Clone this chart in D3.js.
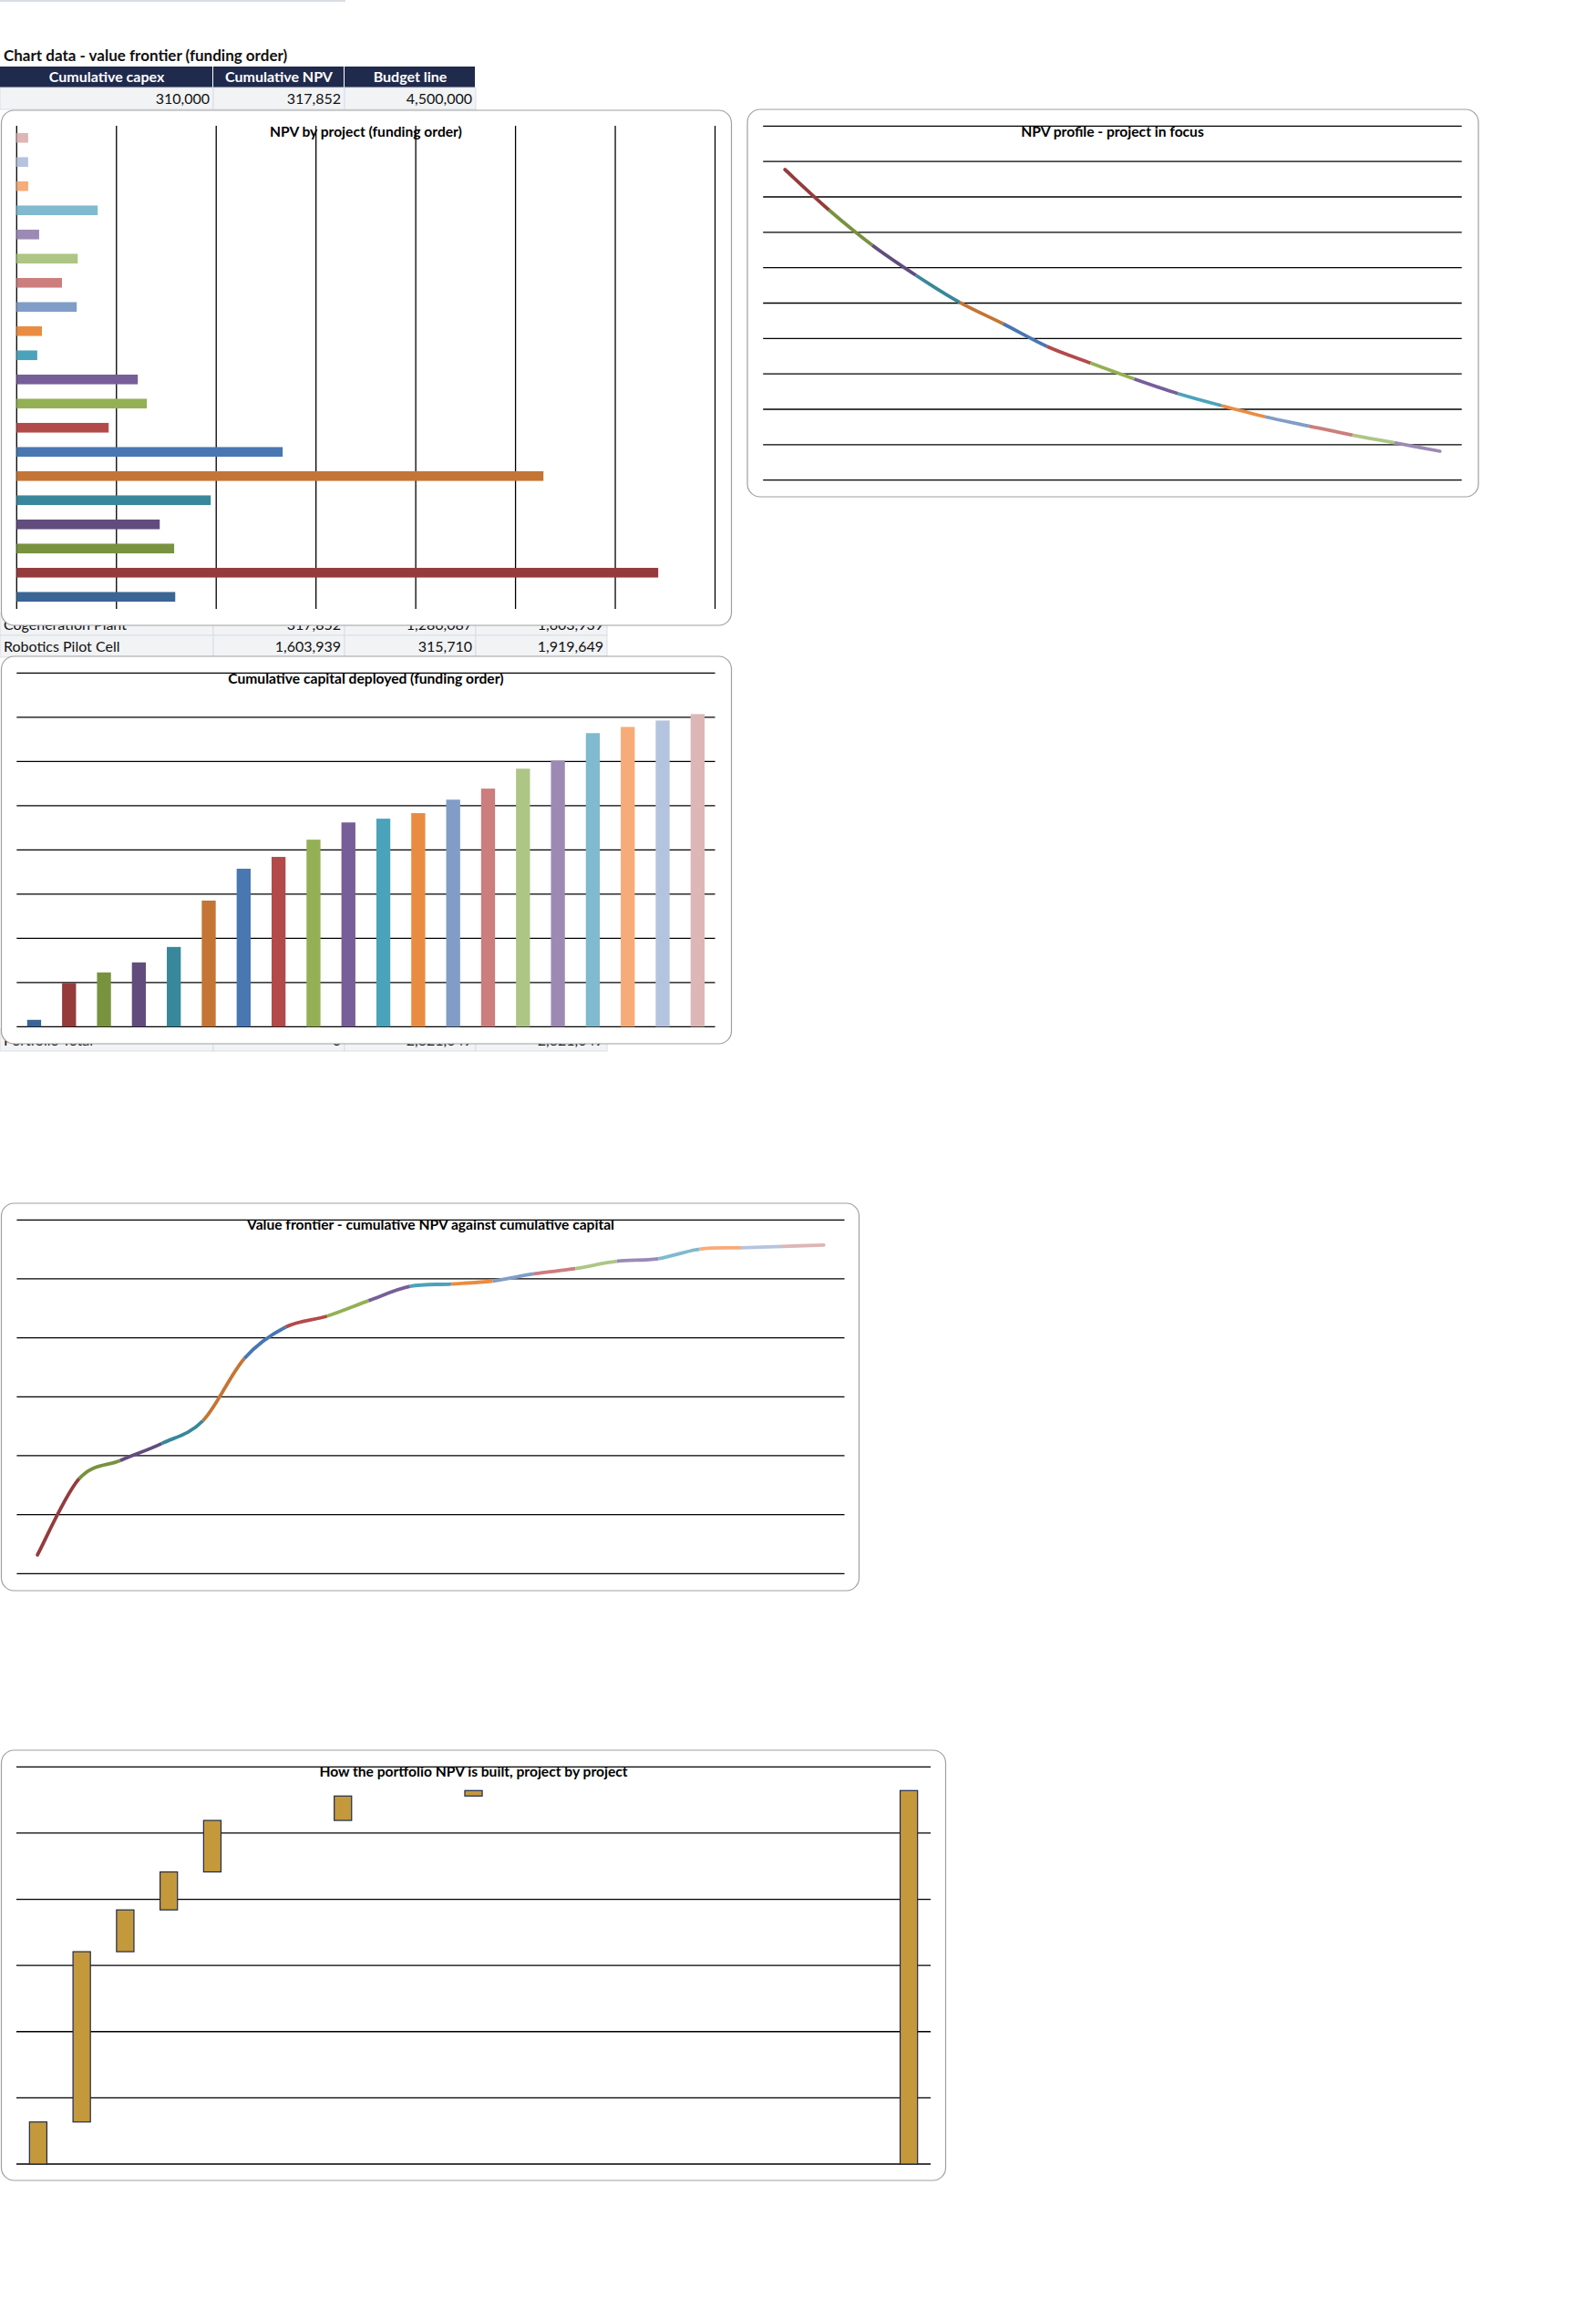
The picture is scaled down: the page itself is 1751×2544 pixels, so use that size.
<!DOCTYPE html>
<html>
<head>
<meta charset="utf-8">
<script src="https://cdn.jsdelivr.net/npm/d3@7"></script>
<style>
  body { margin: 0; background: #fff; }
  svg text { font-family: Lato, "Open Sans", sans-serif; }
</style>
</head>
<body>
<div id="sheet"></div>
<script>
// ---- data (funding order) ----
const projects = ["Project 01", "Cogeneration Plant", "Robotics Pilot Cell", "Project 04", "Project 05",
                  "Project 06", "Project 07", "Project 08", "Project 09", "Project 10",
                  "Project 11", "Project 12", "Project 13", "Project 14", "Project 15",
                  "Project 16", "Project 17", "Project 18", "Project 19", "Project 20"];
const npvByProject = [317852, 1286087, 315710, 286800, 389000, 1056000, 533200, 184400, 261000, 242800,
                      41200, 50600, 120400, 90800, 122400, 45000, 162400, 23000, 23000, 23000];
const cumulativeCapex = [310000, 1975000, 2455000, 2908000, 3607000, 5705000, 7145000, 7680000, 8460000, 9240000,
                         9410000, 9660000, 10270000, 10770000, 11670000, 12040000, 13280000, 13560000, 13850000, 14140000];
const cumulativeNpv = [317852, 1603939, 1919649, 2206449, 2595449, 3651449, 4184649, 4369049, 4630049, 4872849,
                       4914049, 4964649, 5085049, 5175849, 5298249, 5343249, 5505649, 5528649, 5551649, 5574649];
// waterfall: start / step per project, plus the portfolio total
const waterfallCats = projects.concat(["Portfolio Total"]);
const waterfallStart = [0, 317852, 1603939, 1919649, 2206449, 2595449, 2595449, 2595449, 2779849, 2779849,
                        2779849, 2821049, 2821049, 2821049, 2821049, 2821049, 2821049, 2821049, 2821049, 2821049, 0];
const waterfallStep = [317852, 1286087, 315710, 286800, 389000, 0, 0, 184400, 0, 0,
                       41200, 0, 0, 0, 0, 0, 0, 0, 0, 0, 2821049];
// NPV profile of the project in focus, by discount rate
const discountRates = ["0%", "1%", "2%", "3%", "4%", "5%", "6%", "7%", "8%", "9%", "10%", "11%", "12%", "13%", "14%", "15%"];
const profileNpv = [4386000, 3820000, 3318000, 2893000, 2511000, 2207000, 1889000, 1653000,
                    1429000, 1223000, 1052000, 894000, 765000, 636000, 524000, 408000];
const summaryHeaders = ["Cumulative capex", "Cumulative NPV", "Budget line"];
const summaryValues = [310000, 317852, 4500000];

const projectColors = ["#3b6594", "#953b3c", "#78923f", "#624c7d", "#39879a", "#c47535", "#4877b2", "#b34a4a",
                       "#94b055", "#775e98", "#4aa3bb", "#e98c42", "#819dc7", "#cc7d7d", "#adc685", "#9c8ab5",
                       "#7fbace", "#f7ab79", "#b5c4de", "#ddb6b6"];

const fmt = d3.format(",");

const svg = d3.select("#sheet").append("svg")
    .attr("width", 1751).attr("height", 2544);

// ---- worksheet cells behind the charts ----
svg.append("rect").attr("x", 0).attr("y", 0).attr("width", 379).attr("height", 2).attr("fill", "#d9dee5");

svg.append("text").attr("x", 4).attr("y", 67)
    .attr("font-size", 17).attr("font-weight", "bold").attr("fill", "#111")
    .text("Chart data - value frontier (funding order)");

const colEdges = [0, 234, 378, 522, 666];

const head = svg.append("g");
summaryHeaders.forEach((h, i) => {
    head.append("rect").attr("x", colEdges[i]).attr("y", 73).attr("width", colEdges[i + 1] - colEdges[i] - 1)
        .attr("height", 23).attr("fill", "#1f2a4c");
    head.append("text").attr("x", (colEdges[i] + colEdges[i + 1]) / 2).attr("y", 90)
        .attr("text-anchor", "middle").attr("font-size", 16).attr("font-weight", "bold").attr("fill", "#fff")
        .text(h);
    head.append("rect").attr("x", colEdges[i]).attr("y", 96).attr("width", colEdges[i + 1] - colEdges[i])
        .attr("height", 24).attr("fill", "#f2f3f5").attr("stroke", "#d9dee5");
    head.append("text").attr("x", colEdges[i + 1] - 4).attr("y", 114)
        .attr("text-anchor", "end").attr("font-size", 16).attr("fill", "#111")
        .text(fmt(summaryValues[i]));
});

// waterfall table: only the rows that peek out between the charts
const rowH = 24, rowTop = 649;
const rows = svg.append("g");
waterfallCats.forEach((name, i) => {
    const y = rowTop + i * rowH;
    const visible = (y + rowH > 686 && y < 720) || y + rowH > 1145;
    if (!visible) return;
    const cells = [name, fmt(waterfallStart[i]), fmt(waterfallStep[i]), fmt(waterfallStart[i] + waterfallStep[i])];
    cells.forEach((c, j) => {
        rows.append("rect").attr("x", colEdges[j]).attr("y", y).attr("width", colEdges[j + 1] - colEdges[j])
            .attr("height", rowH).attr("fill", "#f2f3f5").attr("stroke", "#d9dee5");
        rows.append("text")
            .attr("x", j === 0 ? 4 : colEdges[j + 1] - 4).attr("y", y + 18)
            .attr("text-anchor", j === 0 ? "start" : "end")
            .attr("font-size", 16).attr("fill", "#111").text(c);
    });
});

// ---- helpers ----
function chartBox(x, y, w, h) {
    const g = svg.append("g");
    g.append("rect").attr("x", x).attr("y", y).attr("width", w).attr("height", h)
        .attr("rx", 14).attr("ry", 14).attr("fill", "#fff").attr("stroke", "#a0a0a0").attr("stroke-width", 1.2);
    return g;
}
function chartTitle(g, text, cx, cy) {
    g.append("text").attr("x", cx).attr("y", cy + 5.5).attr("text-anchor", "middle")
        .attr("font-size", 15.6).attr("font-weight", "bold").attr("fill", "#000").text(text);
}
function hGrid(g, y, ticks, x0, x1) {
    g.append("g").selectAll("line").data(ticks).join("line")
        .attr("x1", x0).attr("x2", x1).attr("y1", d => y(d)).attr("y2", d => y(d))
        .attr("stroke", "#000").attr("stroke-width", 1.3);
}
// smoothed line drawn segment by segment, each segment coloured by the point it runs into
function smoothSegments(g, pts, colors) {
    const n = pts.length;
    for (let i = 1; i < n; i++) {
        const p0 = pts[Math.max(i - 2, 0)], p1 = pts[i - 1], p2 = pts[i], p3 = pts[Math.min(i + 1, n - 1)];
        const c1 = [p1[0] + (p2[0] - p0[0]) / 6, p1[1] + (p2[1] - p0[1]) / 6];
        const c2 = [p2[0] - (p3[0] - p1[0]) / 6, p2[1] - (p3[1] - p1[1]) / 6];
        g.append("path")
            .attr("d", `M${p1}C${c1} ${c2} ${p2}`)
            .attr("fill", "none").attr("stroke", colors[i % colors.length])
            .attr("stroke-width", 3.8).attr("stroke-linecap", i === 1 || i === n - 1 ? "round" : "butt");
    }
}

// ---- NPV by project (horizontal bars) ----
{
    const g = chartBox(1.5, 121, 801, 565);
    const x = d3.scaleLinear().domain([0, 1400000]).range([18.3, 784.5]);
    const y = d3.scaleBand().domain(projects).range([668, 138]).paddingInner(0.6).paddingOuter(0.3);
    g.append("g").selectAll("line").data(x.ticks(7)).join("line")
        .attr("x1", d => x(d)).attr("x2", d => x(d)).attr("y1", 138).attr("y2", 668)
        .attr("stroke", "#000").attr("stroke-width", 1.3);
    g.append("g").selectAll("rect").data(projects).join("rect")
        .attr("x", x(0)).attr("y", d => y(d))
        .attr("width", (d, i) => x(npvByProject[i]) - x(0)).attr("height", y.bandwidth())
        .attr("fill", (d, i) => projectColors[i]);
    chartTitle(g, "NPV by project (funding order)", 401.4, 144);
}

// ---- NPV profile ----
{
    const g = chartBox(820, 120, 802, 425);
    const x = d3.scalePoint().domain(discountRates).range([837.2, 1603.7]).padding(0.5);
    const y = d3.scaleLinear().domain([0, 5000000]).range([526.7, 138.3]);
    hGrid(g, y, d3.range(0, 5000001, 500000), 837.2, 1603.7);
    chartTitle(g, "NPV profile - project in focus", 1220.5, 144.3);
    smoothSegments(g, discountRates.map((r, i) => [x(r), y(profileNpv[i])]), projectColors);
}

// ---- Cumulative capital deployed ----
{
    const g = chartBox(1.5, 720, 801, 425);
    const x = d3.scaleBand().domain(projects).range([18.3, 784.5]).paddingInner(0.6).paddingOuter(0.3);
    const y = d3.scaleLinear().domain([0, 16000000]).range([1126.3, 738.3]);
    hGrid(g, y, y.ticks(8), 18.3, 784.5);
    g.append("g").selectAll("rect").data(projects).join("rect")
        .attr("x", d => x(d)).attr("width", x.bandwidth())
        .attr("y", (d, i) => y(cumulativeCapex[i])).attr("height", (d, i) => y(0) - y(cumulativeCapex[i]))
        .attr("fill", (d, i) => projectColors[i]);
    chartTitle(g, "Cumulative capital deployed (funding order)", 401.4, 744);
}

// ---- Value frontier ----
{
    const g = chartBox(1.5, 1320, 941, 425);
    const x = d3.scalePoint().domain(projects).range([18.4, 926.5]).padding(0.5);
    const y = d3.scaleLinear().domain([0, 6000000]).range([1726.3, 1338.3]);
    hGrid(g, y, y.ticks(6), 18.4, 926.5);
    chartTitle(g, "Value frontier - cumulative NPV against cumulative capital", 472.5, 1343.3);
    smoothSegments(g, projects.map((p, i) => [x(p), y(cumulativeNpv[i])]), projectColors);
}

// ---- Waterfall ----
{
    const g = chartBox(1.5, 1920, 1036, 472);
    const x = d3.scaleBand().domain(waterfallCats).range([18, 1021]).paddingInner(0.6).paddingOuter(0.3);
    const y = d3.scaleLinear().domain([0, 3000000]).range([2374, 1938.3]);
    hGrid(g, y, y.ticks(6), 18, 1021);
    const steps = waterfallCats.map((c, i) => ({ c, s: waterfallStart[i], v: waterfallStep[i] }))
        .filter(d => d.v > 0);
    g.append("g").selectAll("rect").data(steps).join("rect")
        .attr("x", d => x(d.c)).attr("width", x.bandwidth())
        .attr("y", d => y(d.s + d.v)).attr("height", d => y(d.s) - y(d.s + d.v))
        .attr("fill", "#c4993b").attr("stroke", "#1f2a4c").attr("stroke-width", 1.2);
    chartTitle(g, "How the portfolio NPV is built, project by project", 519.5, 1943.3);
}
</script>
</body>
</html>
